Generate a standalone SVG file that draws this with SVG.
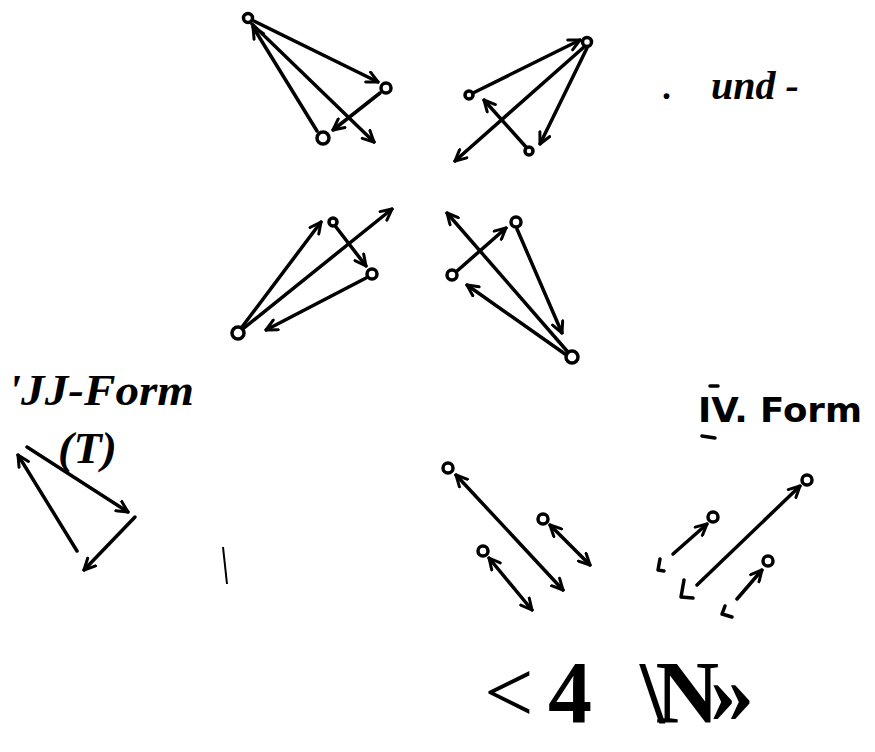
<svg xmlns="http://www.w3.org/2000/svg" width="875" height="752" viewBox="0 0 875 752">
<defs>
<style>
.c{fill:#fff;stroke:#000;stroke-width:3.5}
.l{fill:none;stroke:#000;stroke-width:3.5;stroke-linecap:round;stroke-linejoin:round}
.a{marker-end:url(#ah)}
.d{marker-start:url(#ah);marker-end:url(#ah)}
.s{font-family:"Liberation Serif","Times New Roman",serif;fill:#000}
.h{font-family:"DejaVu Sans","Open Sans",sans-serif;fill:#000}
</style>
<marker id="ah" viewBox="0 0 14 14" refX="12.5" refY="7" markerWidth="14" markerHeight="14" markerUnits="userSpaceOnUse" orient="auto-start-reverse">
<path d="M1.5,1.5 L12.5,7 L1.5,12.5" fill="none" stroke="#000" stroke-width="3" stroke-linecap="round" stroke-linejoin="round"/>
</marker>
</defs>
<rect width="875" height="752" fill="#fff"/>

<g id="connectors">
<!-- top-left -->
<path class="l a" d="M254,21 L378,82"/>
<path class="l a" d="M252,24 L374,142"/>
<path class="l a" d="M317,131 L253,27"/>
<path class="l a" d="M380,93 L333,130"/>
<!-- top-right -->
<path class="l a" d="M473,93 L580,40"/>
<path class="l a" d="M584,47 L455,161"/>
<path class="l a" d="M587,48 L540,144"/>
<path class="l a" d="M526,147 L484,100"/>
<!-- middle-left -->
<path class="l a" d="M242,327 L321,222"/>
<path class="l a" d="M244,328 L392,209"/>
<path class="l a" d="M336,227 L366,266"/>
<path class="l a" d="M366,278 L266,330"/>
<!-- middle-right -->
<path class="l a" d="M457,271 L506,228"/>
<path class="l a" d="M567,351 L447,213"/>
<path class="l a" d="M517,229 L562,333"/>
<path class="l a" d="M565,354 L467,285"/>
<!-- left triangle -->
<path class="l a" d="M27,447 L128,512"/>
<path class="l a" d="M77,551 L18,455"/>
<path class="l a" d="M135,517 L84,570"/>
<path d="M223,547 L227,584" fill="none" stroke="#000" stroke-width="2"/>
<!-- bottom double arrows -->
<path class="l d" d="M456,475 L563,590"/>
<path class="l d" d="M550,525 L590,565"/>
<path class="l d" d="M489,558 L532,610"/>
<!-- bottom right arrows -->
<path class="l a" d="M697,585 L800,486"/>
<path class="l" d="M684,580 L681,597 L693,598"/>
<path class="l a" d="M673,554 L707,524"/>
<path class="l" d="M660,559 L658,570 L664,571"/>
<path class="l a" d="M737,599 L762,570"/>
<path class="l" d="M725,606 L722,614 L732,617"/>
</g>

<g id="nodeA"><circle class="c" cx="248" cy="18" r="4.5"/></g>
<g id="nodeB"><circle class="c" cx="386" cy="88" r="5"/></g>
<g id="nodeC"><circle class="c" cx="323" cy="138" r="6"/></g>
<g id="nodeD"><circle class="c" cx="587" cy="42" r="4.5"/></g>
<g id="nodeE"><circle class="c" cx="469" cy="95" r="4"/></g>
<g id="nodeF"><circle class="c" cx="529" cy="151" r="4"/></g>
<g id="nodeG"><circle class="c" cx="238" cy="333" r="6"/></g>
<g id="nodeH"><circle class="c" cx="333" cy="222" r="4"/></g>
<g id="nodeI"><circle class="c" cx="372" cy="274" r="5"/></g>
<g id="nodeJ"><circle class="c" cx="516" cy="222" r="5"/></g>
<g id="nodeK"><circle class="c" cx="452" cy="275" r="5"/></g>
<g id="nodeL"><circle class="c" cx="572" cy="357" r="6"/></g>
<g id="nodeN1"><circle class="c" cx="448" cy="468" r="5"/></g>
<g id="nodeN2"><circle class="c" cx="543" cy="519" r="5"/></g>
<g id="nodeN3"><circle class="c" cx="483" cy="551" r="5"/></g>
<g id="nodeP1"><circle class="c" cx="807" cy="480" r="5"/></g>
<g id="nodeP2"><circle class="c" cx="713" cy="517" r="5"/></g>
<g id="nodeP3"><circle class="c" cx="768" cy="561" r="5"/></g>

<g id="labels">
<text class="s" x="662" y="99" font-size="36" font-weight="bold">.</text>
<text class="s" x="711" y="99" font-size="40" font-weight="bold" font-style="italic">und -</text>
<text class="s" x="8" y="405" font-size="44" font-weight="bold" font-style="italic" textLength="186" lengthAdjust="spacingAndGlyphs">'JJ-Form</text>
<text class="s" x="58" y="463" font-size="44" font-weight="bold" font-style="italic" textLength="59" lengthAdjust="spacingAndGlyphs">(T)</text>
<text class="h" x="698" y="422" font-size="33" font-weight="bold" textLength="164" lengthAdjust="spacingAndGlyphs">IV. Form</text>
<path class="l" d="M710,386 L718,386"/>
<path class="l" d="M702,436 L715,438"/>
<text class="s" y="722" font-size="88"><tspan x="484">&lt;</tspan><tspan x="548" font-weight="bold">4</tspan><tspan x="640" font-weight="bold" letter-spacing="-9">\N»</tspan></text>
</g>
</svg>
